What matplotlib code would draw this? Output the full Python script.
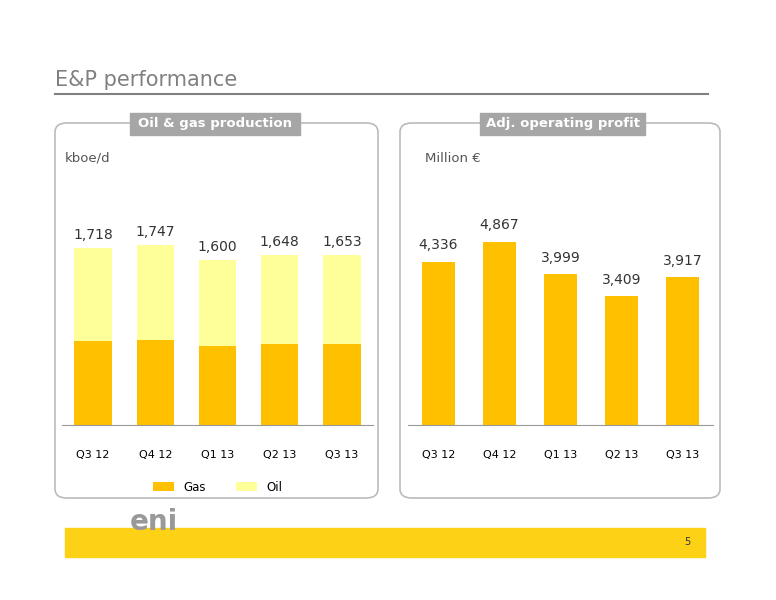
import matplotlib
matplotlib.use("Agg")
import matplotlib.pyplot as plt
from matplotlib.patches import FancyBboxPatch, Rectangle

quarters = ["Q3 12", "Q4 12", "Q1 13", "Q2 13", "Q3 13"]
production_total = [1718, 1747, 1600, 1648, 1653]
gas = [815, 825, 767, 786, 786]
oil = [t - g for t, g in zip(production_total, gas)]
profit = [4336, 4867, 3999, 3409, 3917]
prod_labels = ["1,718", "1,747", "1,600", "1,648", "1,653"]
profit_labels = ["4,336", "4,867", "3,999", "3,409", "3,917"]

W, H = 776, 600
fig = plt.figure(figsize=(W/100, H/100), dpi=100)
def fx(x): return x / W
def fy(y): return 1 - y / H

GOLD = "#FFC000"
PALE = "#FFFF99"
GREY = "#808080"

fig.text(fx(55), fy(80), "E&P performance", fontsize=15, color=GREY, va="center")
fig.add_artist(plt.Line2D([fx(55), fx(708)], [fy(94), fy(94)], color=GREY, lw=1.5))

for x0, x1 in [(55, 378), (400, 720)]:
    fig.add_artist(FancyBboxPatch((fx(x0), fy(498)), fx(x1 - x0), (498 - 123) / H,
                                  boxstyle="round,pad=0,rounding_size=0.015",
                                  ec="#BBBBBB", fc="white", lw=1.2, zorder=-5))
for x0, x1, t in [(130, 300, "Oil & gas production"), (480, 645, "Adj. operating profit")]:
    fig.add_artist(Rectangle((fx(x0), fy(135)), fx(x1 - x0), 22 / H, color="#A6A6A6", zorder=-4))
    fig.text(fx((x0 + x1) / 2), fy(124), t, color="white", fontsize=9.5,
             fontweight="bold", ha="center", va="center")

fig.text(fx(65), fy(158), "kboe/d", fontsize=9.5, color="#555555", va="center")
fig.text(fx(425), fy(158), "Million €", fontsize=9.5, color="#555555", va="center")

x = list(range(len(quarters)))
axL = fig.add_axes([fx(62), fy(425), fx(311), 225 / H], zorder=2)
axL.bar(x, gas, width=0.6, color=GOLD, label="Gas")
axL.bar(x, oil, width=0.6, bottom=gas, color=PALE, label="Oil")
axL.set_ylim(0, 225 / 0.103)
axL.set_xlim(-0.5, 4.5)
for i, t in enumerate(prod_labels):
    axL.text(i, production_total[i] + 60, t, ha="center", va="bottom", fontsize=10, color="#333333")

axR = fig.add_axes([fx(408), fy(425), fx(305), 225 / H], zorder=2)
axR.bar(x, profit, width=0.55, color=GOLD)
axR.set_ylim(0, 225 / 0.0377)
axR.set_xlim(-0.5, 4.5)
for i, t in enumerate(profit_labels):
    axR.text(i, profit[i] + 250, t, ha="center", va="bottom", fontsize=10, color="#333333")

for ax in (axL, axR):
    for s in ("top", "right", "left"):
        ax.spines[s].set_visible(False)
    ax.spines["bottom"].set_color("#999999")
    ax.set_yticks([])
    ax.set_xticks(x)
    ax.set_xticklabels(quarters, fontsize=8)
    ax.tick_params(axis="x", length=0, pad=18)
    ax.patch.set_alpha(0)

axL.legend(loc="upper center", bbox_to_anchor=(0.5, -0.2), ncol=2, frameon=False,
           fontsize=8.5, handlelength=1.8, handleheight=0.9, columnspacing=2.5)

fig.add_artist(Rectangle((fx(65), fy(557)), fx(640), 29 / H, color="#FCD116", zorder=-4))
fig.text(fx(687), fy(542), "5", fontsize=7, ha="center", va="center", color="#333333")
fig.text(fx(130), fy(522), "eni", fontsize=20, color="#999999", fontweight="bold", va="center")

fig.savefig("out.png", dpi=100)
